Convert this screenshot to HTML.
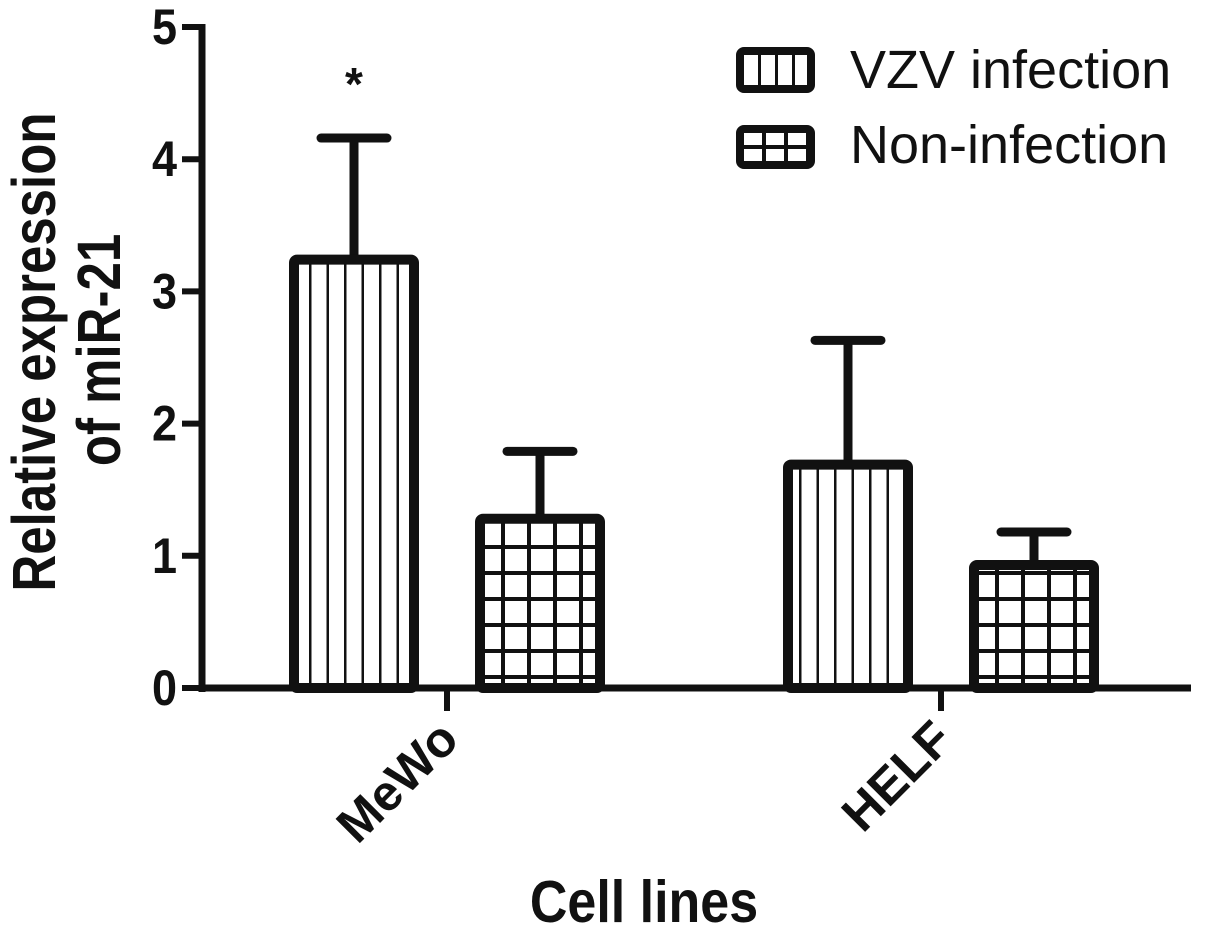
<!DOCTYPE html>
<html><head><meta charset="utf-8"><style>
body{margin:0;background:#fff}
svg{display:block;font-family:"Liberation Sans",Arial,sans-serif}
</style></head><body>
<svg id="chart" width="1205" height="935" viewBox="0 0 1205 935" xmlns="http://www.w3.org/2000/svg">
<defs>
<pattern id="vstripe" patternUnits="userSpaceOnUse" width="17.5" height="20" x="294"><rect width="17.5" height="20" fill="#fff"/><rect x="15" width="3.5" height="20" fill="#111"/></pattern>
<pattern id="grid" patternUnits="userSpaceOnUse" width="26" height="26" x="479" y="3"><rect width="26" height="26" fill="#fff"/><rect x="22" width="6" height="26" fill="#111"/><rect y="22" width="26" height="6" fill="#111"/></pattern>
<pattern id="lvstripe" patternUnits="userSpaceOnUse" width="17" height="20" x="744"><rect width="17" height="20" fill="#fff"/><rect x="14" width="4" height="20" fill="#111"/></pattern>
<pattern id="lgrid" patternUnits="userSpaceOnUse" width="22" height="18" x="744" y="131"><rect width="22" height="18" fill="#fff"/><rect x="18" width="6" height="18" fill="#111"/><rect y="14" width="22" height="6" fill="#111"/></pattern>
</defs>
<g id="marks"></g>
<text transform="translate(55,352) rotate(-90) scale(1,1.2)" text-anchor="middle" font-weight="bold" font-size="51" fill="#111">Relative expression</text>
<text transform="translate(120,350) rotate(-90) scale(1,1.2)" text-anchor="middle" font-weight="bold" font-size="51" fill="#111">of miR-21</text>
<text transform="translate(644,922) scale(1,1.15)" text-anchor="middle" font-weight="bold" font-size="52" fill="#111">Cell lines</text>
<rect x="740" y="51" width="71" height="38" rx="4" fill="url(#lvstripe)" stroke="#111" stroke-width="8"/>
<text x="850" y="88" font-size="54" fill="#111">VZV infection</text>
<rect x="740" y="129" width="71" height="36" rx="4" fill="url(#lgrid)" stroke="#111" stroke-width="8"/>
<text x="850" y="163" font-size="54" fill="#111">Non-infection</text>
</svg>
<script>
const categories = ["MeWo", "HELF"];
const vzvValues = [3.24, 1.69];
const vzvErrors = [0.92, 0.94];
const nonValues = [1.28, 0.93];
const nonErrors = [0.51, 0.25];
const yTicks = [0, 1, 2, 3, 4, 5];
const sigMarks = ["*", ""];

const NS = "http://www.w3.org/2000/svg";
const g = document.getElementById("marks");
const y0 = 688, yTop = 27;
function yScale(v){ return y0 - (y0 - yTop) * v / 5; }
const groupCenters = [447, 941];
const barW = 130;
function el(tag, attrs){ const e = document.createElementNS(NS, tag); for (const k in attrs) e.setAttribute(k, attrs[k]); g.appendChild(e); return e; }

let ya = el("line", {x1:202, y1:yTop-3, x2:202, y2:y0+4, stroke:"#111", "stroke-width":7});


yTicks.forEach(t => {
  const y = yScale(t);
  const tk = el("line", {x1:182, y1:y, x2:202, y2:y, stroke:"#111", "stroke-width":6});
  
  
  const lb = el("text", {transform:"translate(177," + (y+17) + ") scale(1,1.12)", "text-anchor":"end", "font-weight":"bold", "font-size":45, fill:"#111"});
  lb.textContent = t;
  
  
});

function bar(cx, v, err, fill, name){
  const top = yScale(v), et = yScale(v + err);
  const eb = el("line", {x1:cx, y1:et, x2:cx, y2:top, stroke:"#111", "stroke-width":9});
  
  
  const cap = el("line", {x1:cx-33, y1:et, x2:cx+33, y2:et, stroke:"#111", "stroke-width":9, "stroke-linecap":"round"});
  
  
  const r = el("rect", {x:cx-barW/2+5, y:top, width:barW-10, height:y0-top, rx:3, fill:fill, stroke:"#111", "stroke-width":10});
  
  
}
categories.forEach((c, i) => {
  const gc = groupCenters[i];
  bar(gc - 93, vzvValues[i], vzvErrors[i], "url(#vstripe)", "bar-" + c.toLowerCase() + "-vzv");
  bar(gc + 93, nonValues[i], nonErrors[i], "url(#grid)", "bar-" + c.toLowerCase() + "-non");
  if (sigMarks[i]) {
    const s = el("text", {x:gc-93, y:yScale(vzvValues[i]+vzvErrors[i])-38, "text-anchor":"middle", "font-weight":"bold", "font-size":46, fill:"#111"});
    s.textContent = sigMarks[i];
    
    
  }
  const tk = el("line", {x1:gc, y1:y0, x2:gc, y2:711, stroke:"#111", "stroke-width":6});
  
  
  const lb = el("text", {transform:"translate(" + (gc+14) + ",742) rotate(-45)", "text-anchor":"end", "font-weight":"bold", "font-size":50, fill:"#111"});
  lb.textContent = c;
  
  
});
let xa = el("line", {x1:199, y1:y0, x2:1191, y2:y0, stroke:"#111", "stroke-width":7});


</script>
</body></html>
